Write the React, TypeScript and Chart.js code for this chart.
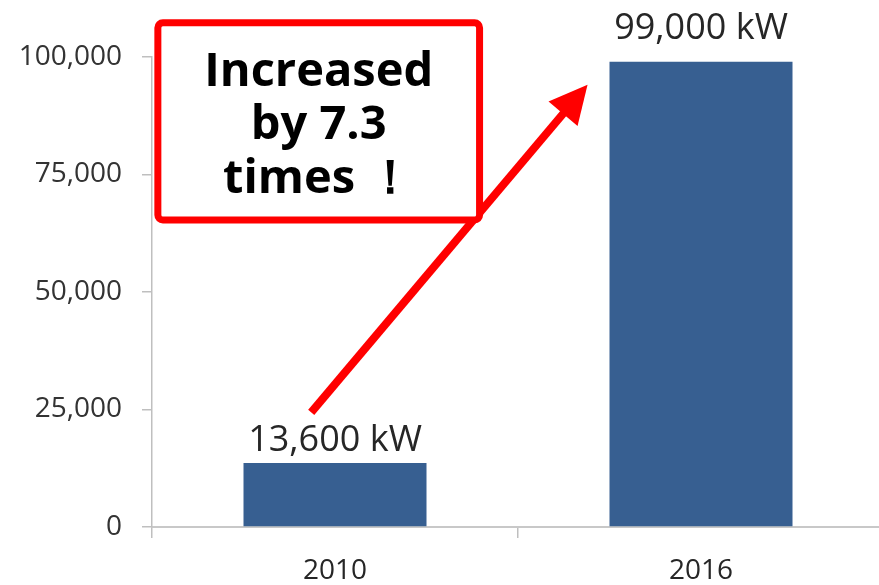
import React, { useEffect, useRef } from "react";
import { Chart, registerables } from "chart.js";

Chart.register(...registerables);

const categories = ["2010", "2016"];
const capacityKW = [13600, 99000];
const valueLabels = ["13,600 kW", "99,000 kW"];
const yTicks = [0, 25000, 50000, 75000, 100000];
const calloutLines = ["Increased", "by 7.3", "times \uFF01"];

const FONT = "'Open Sans', 'Noto Sans', sans-serif";
const labelGaps = [12, 23];
const CANVAS_W = 884;
const CANVAS_H = 585;

const valueLabelPlugin = {
  id: "valueLabels",
  afterDatasetsDraw(chart: any) {
    const ctx = chart.ctx;
    const meta = chart.getDatasetMeta(0);
    ctx.save();
    ctx.fillStyle = "#262626";
    ctx.font = `36px ${FONT}`;
    ctx.textAlign = "center";
    ctx.textBaseline = "alphabetic";
    meta.data.forEach((bar: any, i: number) => {
      ctx.fillText(valueLabels[i], bar.x, bar.y - labelGaps[i]);
    });
    ctx.restore();
  },
};

const calloutPlugin = {
  id: "callout",
  afterDraw(chart: any) {
    const ctx = chart.ctx;
    const xs = chart.scales.x;
    const ys = chart.scales.y;
    // arrow
    const x0 = xs.getPixelForValue(-0.065);
    const y0 = ys.getPixelForValue(24400);
    const x1 = xs.getPixelForValue(0.69);
    const y1 = ys.getPixelForValue(94100);
    const dx = x1 - x0;
    const dy = y1 - y0;
    const len = Math.sqrt(dx * dx + dy * dy);
    const ux = dx / len;
    const uy = dy / len;
    const headLen = 38;
    const headHalf = 19;
    const bx = x1 - ux * headLen;
    const by = y1 - uy * headLen;
    ctx.save();
    ctx.strokeStyle = "#FF0000";
    ctx.fillStyle = "#FF0000";
    ctx.lineWidth = 8;
    ctx.lineCap = "butt";
    ctx.beginPath();
    ctx.moveTo(x0, y0);
    ctx.lineTo(bx + ux * 4, by + uy * 4);
    ctx.stroke();
    ctx.beginPath();
    ctx.moveTo(x1, y1);
    ctx.lineTo(bx - uy * headHalf, by + ux * headHalf);
    ctx.lineTo(bx + uy * headHalf, by - ux * headHalf);
    ctx.closePath();
    ctx.fill();

    // box
    const left = xs.getPixelForValue(-0.484);
    const right = xs.getPixelForValue(0.395);
    const top = ys.getPixelForValue(107300);
    const bottom = ys.getPixelForValue(65300);
    ctx.fillStyle = "#FFFFFF";
    ctx.lineWidth = 7;
    ctx.beginPath();
    (ctx as any).roundRect(left, top, right - left, bottom - top, 5);
    ctx.fill();
    ctx.stroke();

    ctx.fillStyle = "#000000";
    ctx.font = `bold 47px ${FONT}`;
    ctx.textAlign = "center";
    ctx.textBaseline = "alphabetic";
    const cx = (left + right) / 2;
    const baselines = [86, 139, 193];
    calloutLines.forEach((t, i) => {
      ctx.fillText(t, cx, baselines[i]);
    });
    ctx.restore();
  },
};

export default function App() {
  const ref = useRef<HTMLCanvasElement | null>(null);
  useEffect(() => {
    if (!ref.current) return;
    const chart = new Chart(ref.current, {
      type: "bar",
      data: {
        labels: categories,
        datasets: [
          {
            data: capacityKW,
            backgroundColor: "#375F91",
            borderWidth: 0,
            categoryPercentage: 1,
            barPercentage: 0.5,
          },
        ],
      },
      options: {
        animation: false,
        responsive: false,
        maintainAspectRatio: false,
        layout: { padding: { top: 57, right: 0, left: 0, bottom: 0 } },
        plugins: {
          legend: { display: false },
          tooltip: { enabled: false },
          title: { display: false },
        },
        scales: {
          x: {
            afterFit(scale: any) {
              scale.height = 58;
            },
            grid: {
              display: true,
              drawOnChartArea: false,
              drawTicks: true,
              tickLength: 11,
              color: "#BFBFBF",
              tickColor: (c: any) => (c && c.tick ? "#BFBFBF" : "rgba(0,0,0,0)"),
              lineWidth: 1.5,
            },
            border: { display: true, color: "#C8C8C8", width: 2 },
            ticks: {
              color: "#262626",
              font: { family: FONT, size: 28 },
              padding: 16,
              maxRotation: 0,
            },
          },
          y: {
            min: 0,
            max: 100000,
            afterFit(scale: any) {
              scale.width = 152;
            },
            afterBuildTicks(scale: any) {
              scale.ticks = yTicks.map((v) => ({ value: v }));
            },
            grid: {
              display: true,
              drawOnChartArea: false,
              drawTicks: true,
              tickLength: 10,
              color: "#BFBFBF",
              lineWidth: 1.5,
            },
            border: { display: true, color: "#BFBFBF", width: 1.5 },
            ticks: {
              color: "#333333",
              font: { family: FONT, size: 28 },
              padding: 20,
              callback: (v: any) => Number(v).toLocaleString("en-US"),
            },
          },
        },
      },
      plugins: [valueLabelPlugin, calloutPlugin],
    });
    return () => chart.destroy();
  }, []);
  return (
    <div
      style={{
        position: "fixed",
        left: 0,
        top: 0,
        width: 879,
        height: 585,
        overflow: "hidden",
        background: "#FFFFFF",
      }}
    >
      <canvas
        ref={ref}
        width={CANVAS_W}
        height={CANVAS_H}
        style={{ width: CANVAS_W, height: CANVAS_H, display: "block" }}
      />
    </div>
  );
}
